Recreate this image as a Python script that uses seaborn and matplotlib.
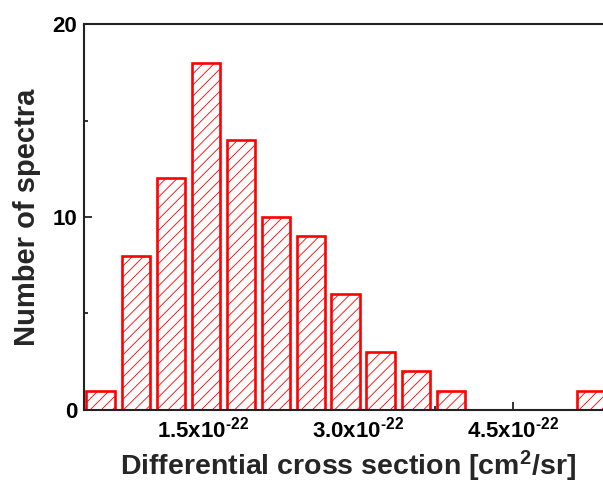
import matplotlib
matplotlib.use("Agg")
import matplotlib.pyplot as plt
from matplotlib.ticker import MultipleLocator
import seaborn as sns

# bin centres (units of 1e-22 cm^2/sr) and counts
cross_section_e22 = [0.51, 0.85, 1.19, 1.53, 1.87, 2.21, 2.55, 2.88,
                     3.22, 3.56, 3.90, 4.24, 4.58, 4.92, 5.26]
n_spectra = [1, 8, 12, 18, 14, 10, 9, 6, 3, 2, 1, 0, 0, 0, 1]

x_ticks = [1.5, 3.0, 4.5]
x_tick_labels = [r"1.5x10$^{\text{-}22}$", r"3.0x10$^{\text{-}22}$", r"4.5x10$^{\text{-}22}$"]
y_ticks = [0, 10, 20]

sns.set_style("ticks")
plt.rcParams["font.family"] = ["Liberation Sans", "DejaVu Sans"]
plt.rcParams["font.weight"] = "bold"
plt.rcParams["mathtext.fontset"] = "custom"
plt.rcParams["mathtext.rm"] = "Liberation Sans:bold"
plt.rcParams["mathtext.bf"] = "Liberation Sans:bold"
plt.rcParams["mathtext.default"] = "rm"
plt.rcParams["hatch.linewidth"] = 0.6

fig = plt.figure(figsize=(6.03, 4.84), dpi=100)
ax = fig.add_axes([0.1393, 0.1529, 0.874, 0.7975])

sns.barplot(x=cross_section_e22, y=n_spectra, native_scale=True, width=0.83,
            color="white", saturation=1, edgecolor="red", linewidth=1.9,
            errorbar=None, ax=ax)

for bar in ax.patches:
    bar.set_hatch("///")
    if bar.get_height() == 0:
        bar.set_visible(False)

ax.set_xlim(0.35, 5.45)
ax.set_ylim(0, 20)
ax.set_xticks(x_ticks)
ax.set_xticklabels(x_tick_labels)
ax.xaxis.set_minor_locator(MultipleLocator(0.75))
ax.set_yticks(y_ticks)
ax.yaxis.set_minor_locator(MultipleLocator(5))

ax.tick_params(which="both", direction="in", width=1.3, colors="#222222",
               labelcolor="black", labelsize=16)
ax.tick_params(which="major", length=6, pad=5)
ax.tick_params(which="minor", length=3)
for s in ax.spines.values():
    s.set_linewidth(1.5)
    s.set_color("#222222")

ax.set_xlabel(r"Differential cross section [cm$^{2}$/sr]", fontsize=20.5,
              fontweight="bold", labelpad=4)
ax.set_ylabel("Number of spectra", fontsize=21, fontweight="bold", labelpad=8)

fig.savefig("out.png", dpi=100)
